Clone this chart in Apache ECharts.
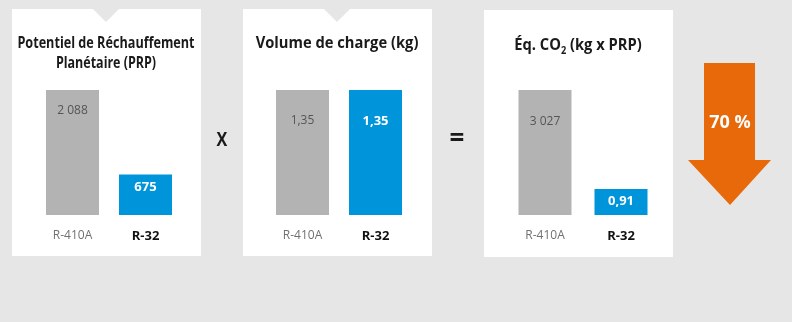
<!DOCTYPE html>
<html>
<head>
<meta charset="utf-8">
<script src="https://cdn.jsdelivr.net/npm/echarts@6/dist/echarts.min.js"></script>
<style>
html, body { margin: 0; padding: 0; background: #e6e6e6; }
#chart { width: 792px; height: 322px; }
</style>
</head>
<body>
<div id="chart"></div>
<script>
var categories = ['R-410A', 'R-32'];
var prpValues = [2088, 675];
var prpLabels = ['2 088', '675'];
var chargeValues = [1.35, 1.35];
var chargeLabels = ['1,35', '1,35'];
var co2Values = [3027, 910];
var co2Labels = ['3 027', '0,91'];
var reductionLabel = '70 %';

var FONT = "'Open Sans', sans-serif";
var GREY = '#b3b3b3';
var BLUE = '#0095da';
var ORANGE = '#e8690a';

var myChart = echarts.init(document.getElementById('chart'));

function barSeries(idx, values, labels, dist) {
    return {
        type: 'bar',
        xAxisIndex: idx,
        yAxisIndex: idx,
        barWidth: 53,
        silent: true,
        data: values.map(function (v, i) {
            var blue = i === 1;
            return {
                value: v,
                itemStyle: { color: blue ? BLUE : GREY },
                label: {
                    show: true,
                    position: 'insideTop',
                    distance: dist[i],
                    formatter: labels[i],
                    fontFamily: FONT,
                    fontSize: blue ? 13 : 12,
                    fontWeight: blue ? 'bold' : 'normal',
                    color: blue ? '#ffffff' : '#555555'
                }
            };
        })
    };
}

function catAxis(idx) {
    return {
        type: 'category',
        gridIndex: idx,
        data: categories,
        axisLine: { show: false },
        axisTick: { show: false },
        axisLabel: {
            interval: 0,
            margin: 15,
            formatter: function (v, i) { return i === 0 ? '{a|' + v + '}' : '{b|' + v + '}'; },
            rich: {
                a: { fontFamily: FONT, fontSize: 12, color: '#707070' },
                b: { fontFamily: FONT, fontSize: 13, fontWeight: 'bold', color: '#111111' }
            }
        }
    };
}

function valAxis(idx, min, max) {
    return { type: 'value', gridIndex: idx, min: min, max: max, show: false };
}

function panel(x, y, notch) {
    var els = [{
        type: 'rect', shape: { x: x, y: y, width: 189, height: 247 },
        style: { fill: '#ffffff' }, z: -10
    }];
    if (notch) {
        els.push({
            type: 'polygon',
            shape: { points: [[x + 81, y], [x + 107, y], [x + 94, y + 13]] },
            style: { fill: '#e6e6e6' }, z: -9
        });
    }
    return els;
}

// text centred on (x, y), squeezed horizontally to mimic the condensed face
function txt(x, y, text, size, sx, extra) {
    var st = {
        text: text, x: 0, y: 0, fill: '#1a1a1a',
        font: 'bold ' + size + 'px ' + FONT,
        align: 'center', verticalAlign: 'middle'
    };
    for (var k in extra) st[k] = extra[k];
    return { type: 'text', x: x, y: y, scaleX: sx, style: st, z: 5 };
}

var graphics = []
    .concat(panel(12, 9, true))
    .concat(panel(243, 9, true))
    .concat(panel(484, 10, false))
    .concat([
        txt(106, 43, 'Potentiel de Réchauffement', 16, 0.79),
        txt(106, 63, 'Planétaire (PRP)', 16, 0.78),
        txt(337, 43, 'Volume de charge (kg)', 16, 0.92),
        txt(578, 45, 'Éq. CO{sub|2} (kg x PRP)', 16, 0.92, {
            rich: { sub: { font: 'bold 10px ' + FONT, fill: '#1a1a1a', padding: [12, 0, 0, 0] } }
        }),
        txt(222, 141, 'X', 19, 0.85),
        txt(457, 140, '=', 26, 1),
        {
            type: 'polygon',
            shape: { points: [[704, 63], [755, 63], [755, 160], [771, 160], [730, 205], [688, 160], [704, 160]] },
            style: { fill: ORANGE }, z: 3
        },
        txt(730, 123, reductionLabel, 18, 1, { fill: '#ffffff' })
    ]);

var option = {
    animation: false,
    backgroundColor: '#e6e6e6',
    grid: [
        { left: 36, top: 90, width: 146, height: 125 },
        { left: 266, top: 90, width: 146, height: 125 },
        { left: 507, top: 90, width: 152, height: 125 }
    ],
    xAxis: [catAxis(0), catAxis(1), catAxis(2)],
    yAxis: [
        valAxis(0, 0, prpValues[0]),
        valAxis(1, 0, chargeValues[0]),
        valAxis(2, 355, co2Values[0])
    ],
    series: [
        barSeries(0, prpValues, prpLabels, [15, 6]),
        barSeries(1, chargeValues, chargeLabels, [25, 25]),
        barSeries(2, co2Values, co2Labels, [26, 6])
    ],
    graphic: { elements: graphics }
};
myChart.setOption(option);
</script>
</body>
</html>
